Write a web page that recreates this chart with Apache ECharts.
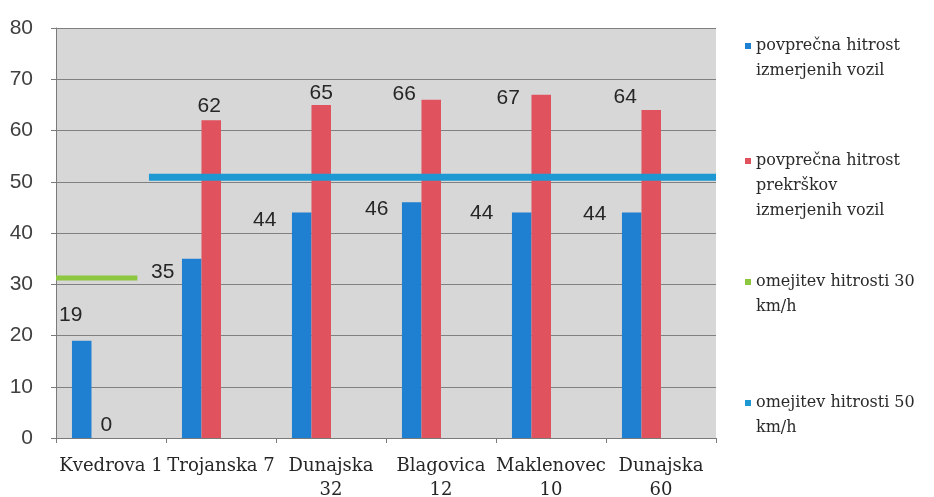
<!DOCTYPE html>
<html><head><meta charset="utf-8">
<script src="https://cdn.jsdelivr.net/npm/echarts@6/dist/echarts.min.js"></script>
<style>html,body{margin:0;padding:0;background:#fff}#c{width:934px;height:497px}</style>
</head><body><div id="c"></div>
<script>
// ---- data ----
const categories = ['Kvedrova 1', 'Trojanska 7', 'Dunajska\n32', 'Blagovica\n12', 'Maklenovec\n10', 'Dunajska\n60'];
const avgSpeed = [19, 35, 44, 46, 44, 44];
const avgViolationSpeed = [0, 62, 65, 66, 67, 64];
const limit30 = [[0, 31.2], [0.74, 31.2]];
const limit50 = [[0.845, 50.9], [6, 50.9]];
const yMin = 0, yMax = 80, yInterval = 10;
const seriesNames = [
  'povprečna hitrost izmerjenih vozil',
  'povprečna hitrost prekrškov izmerjenih vozil',
  'omejitev hitrosti 30 km/h',
  'omejitev hitrosti 50 km/h'
];
const legendLines = [
  ['povprečna hitrost', 'izmerjenih vozil'],
  ['povprečna hitrost', 'prekrškov', 'izmerjenih vozil'],
  ['omejitev hitrosti 30', 'km/h'],
  ['omejitev hitrosti 50', 'km/h']
];

// ---- styles ----
const colBlue = '#1f7fd0', colRed = '#e1525f', colGreen = '#8dc63f', colCyan = '#1d98d2';
const blueLabelOffsets = [[-11, -10], [-29, 29], [-37, 23], [-35, 22], [-40, 16], [-37, 17]];
const redLabelOffsets = [[5, 3], [-2, 1], [0, 4], [-27, 10], [-33, 19], [-26, 3]];
const legendIconY = [46, 161, 282, 403];
const LH = 25;
const serif = 'DejaVu Serif, Liberation Serif, serif';

const valueLabel = {show: true, position: 'top', fontFamily: 'Liberation Sans, Arial, sans-serif', fontSize: 21, color: '#262626'};

function withLabels(values, offsets) {
  return values.map((v, i) => ({value: v, label: {offset: offsets[i]}}));
}

const legends = seriesNames.map((name, i) => {
  const n = legendLines[i].length;
  const blanks = new Array(n - 1).fill('');
  return {
    data: [{name: name, icon: 'rect'}],
    left: 745,
    top: legendIconY[i] - (2 * n - 1) * LH / 2,
    padding: 0,
    itemWidth: 6, itemHeight: 6,
    selectedMode: false,
    formatter: () => blanks.concat(legendLines[i]).join('\n'),
    textStyle: {fontFamily: serif, fontSize: 16, color: '#2a2a2a', lineHeight: LH}
  };
});

const chart = echarts.init(document.getElementById('c'), null, {renderer: 'canvas'});
chart.setOption({
  animation: false,
  backgroundColor: '#ffffff',
  grid: {left: 56, right: 218, top: 28, bottom: 59, show: true, backgroundColor: '#d7d7d7', borderWidth: 0,
    outerBoundsMode: 'none', containLabel: false},
  legend: legends,
  xAxis: [{
    type: 'category', data: categories, boundaryGap: true,
    axisLine: {show: true, lineStyle: {color: '#7a7a7a', width: 1}},
    axisTick: {show: true, length: 5, alignWithLabel: false, interval: 0, lineStyle: {color: '#7a7a7a'}},
    axisLabel: {interval: 0, margin: 16, fontFamily: serif, fontSize: 18, lineHeight: 24, color: '#262626'},
    splitLine: {show: false}
  }, {
    type: 'value', min: 0, max: 6, show: false
  }],
  yAxis: [{
    type: 'value', min: yMin, max: yMax, interval: yInterval,
    axisLine: {show: true, lineStyle: {color: '#7a7a7a', width: 1}},
    axisTick: {show: true, length: 5, lineStyle: {color: '#7a7a7a'}},
    axisLabel: {margin: 23, fontFamily: 'Liberation Sans, Arial, sans-serif', fontSize: 21, color: '#404040'},
    splitLine: {show: true, lineStyle: {color: '#808080', width: 1}}
  }],
  series: [
    {name: seriesNames[0], type: 'bar', barGap: '0%', barCategoryGap: '29%',
      itemStyle: {color: colBlue}, label: valueLabel, data: withLabels(avgSpeed, blueLabelOffsets), z: 2},
    {name: seriesNames[1], type: 'bar', barGap: '0%', barCategoryGap: '29%',
      itemStyle: {color: colRed}, label: valueLabel, data: withLabels(avgViolationSpeed, redLabelOffsets), z: 2},
    {name: 'slot30', type: 'bar', barGap: '0%', barCategoryGap: '29%', data: categories.map(() => null), itemStyle: {color: colGreen}},
    {name: 'slot50', type: 'bar', barGap: '0%', barCategoryGap: '29%', data: categories.map(() => null), itemStyle: {color: colCyan}},
    {name: seriesNames[2], type: 'line', xAxisIndex: 1, yAxisIndex: 0, data: limit30, showSymbol: false, symbol: 'none',
      itemStyle: {color: colGreen}, lineStyle: {color: colGreen, width: 5}, z: 5},
    {name: seriesNames[3], type: 'line', xAxisIndex: 1, yAxisIndex: 0, data: limit50, showSymbol: false, symbol: 'none',
      itemStyle: {color: colCyan}, lineStyle: {color: colCyan, width: 7}, z: 5}
  ]
});
</script></body></html>
